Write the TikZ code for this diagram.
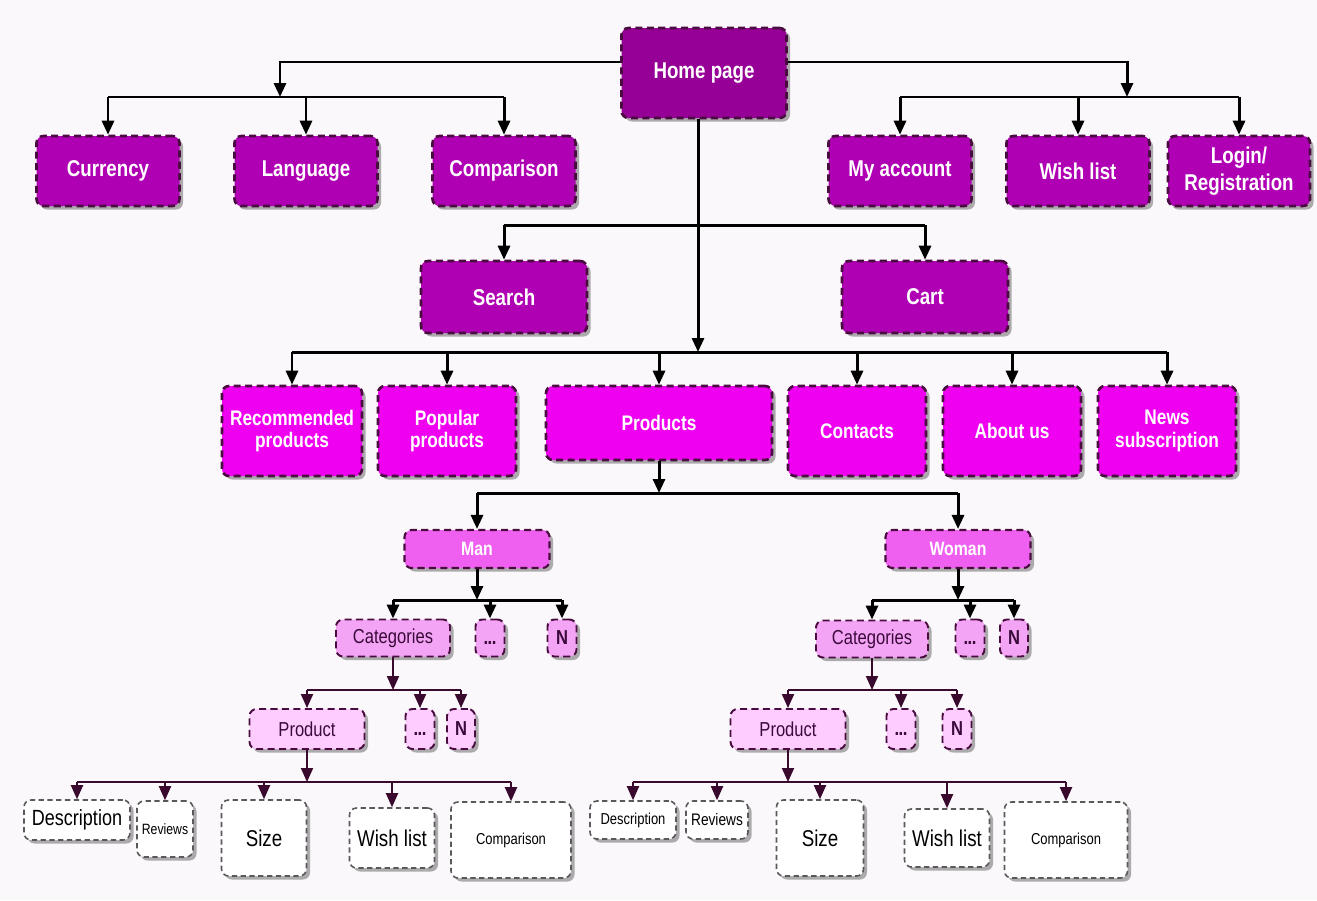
\documentclass[tikz,border=0pt]{standalone}
\usepackage{fontspec}
\setmainfont{Liberation Sans}[FakeStretch=0.82]
\usepackage{tikz}
\usetikzlibrary{arrows.meta,shadows}
\definecolor{bgc}{HTML}{FBF8FC}
\definecolor{edge}{HTML}{4A0C40}
\definecolor{lnk}{HTML}{3A0A2E}
\definecolor{lvA}{HTML}{960096}
\definecolor{lvB}{HTML}{B000B4}
\definecolor{lvC}{HTML}{F000F0}
\definecolor{lvD}{HTML}{F060F0}
\definecolor{lvE}{HTML}{F4A4F4}
\definecolor{lvF}{HTML}{FFCCFF}
\definecolor{ink}{HTML}{3A0A3A}
\newcommand{\etcdots}{\textbf{\vphantom{N}.\kern-.3pt.\kern-.3pt.}}

\begin{document}
\begin{tikzpicture}[x=0.2mm, y=-0.2mm, >={Triangle[length=2.8mm,width=2.4mm]},
	box/.style={draw=edge, rounded corners=4pt, line width=1.5pt, dash pattern=on 4pt off 2.5pt, align=center, inner sep=1pt, drop shadow={shadow xshift=2pt, shadow yshift=-2pt, opacity=0.45, fill=black!70}},
	wh/.style 2 args={minimum width=#1*0.2mm, minimum height=#2*0.2mm},
	top/.style={box, fill=#1, text=white, font=\bfseries\fontsize{13}{15}\selectfont},
	mid/.style={box, fill=lvC, text=white, font=\bfseries\fontsize{12}{13}\selectfont},
	sex/.style={box, fill=lvD, text=white, line width=1.2pt, font=\bfseries\fontsize{11}{12}\selectfont},
	cat/.style={box, fill=#1, text=ink, line width=1.1pt, font=\fontsize{11.5}{12}\selectfont},
	leaf/.style={box, fill=white, text=black, draw=black!65, line width=0.9pt, dash pattern=on 3pt off 2pt, font=\fontsize{#1}{#1}\selectfont},
	link/.style={black, line width=1.7pt},
	thin/.style={lnk, line width=1.1pt}]
	\fill[bgc] (0,0) rectangle (1317,900);
	\useasboundingbox (0,0) rectangle (1317,900);
	% top
	\node[top=lvA, wh={165}{90}] (home) at (704,73) {Home page};
	\node[top=lvB, wh={143}{70}] (cur) at (108,171) {Currency};
	\node[top=lvB, wh={143}{70}] (lang) at (306,171) {Language};
	\node[top=lvB, wh={143}{70}] (cmp) at (504,171) {Comparison};
	\node[top=lvB, wh={143}{70}] (acc) at (900,171) {My account};
	\node[top=lvB, wh={143}{70}] (wish) at (1078,171) {Wish list};
	\node[top=lvB, wh={142}{70}] (login) at (1239,171) {Login/\\Registration};
	\node[top=lvB, wh={166}{72}] (search) at (504,297) {Search};
	\node[top=lvB, wh={166}{72}] (cart) at (925,297) {Cart};
	% middle row
	\node[mid, wh={140}{90}] (rec) at (292,431) {Recommended\\products};
	\node[mid, wh={138}{90}] (pop) at (447,431) {Popular\\products};
	\node[mid, wh={226}{74}] (prod) at (659,423) {Products};
	\node[mid, wh={138}{90}] (cont) at (857,431) {Contacts};
	\node[mid, wh={138}{90}] (about) at (1012,431) {About us};
	\node[mid, wh={138}{90}] (news) at (1167,431) {News\\subscription};
	\node[sex, wh={145}{38}] (man) at (477,549) {Man};
	\node[sex, wh={145}{38}] (woman) at (958,549) {Woman};
	% categories and products
	\node[cat=lvE, wh={114}{37}] (mcat) at (393,638) {Categories};
	\node[cat=lvE, wh={29}{37}] (mdots) at (490,638) {\etcdots};
	\node[cat=lvE, wh={29}{37}] (mn) at (562,638) {\textbf{N}};
	\node[cat=lvE, wh={112}{37}] (wcat) at (872,639) {Categories};
	\node[cat=lvE, wh={29}{37}] (wdots) at (970,638) {\etcdots};
	\node[cat=lvE, wh={28}{37}] (wn) at (1014,638) {\textbf{N}};
	\node[cat=lvF, wh={115}{40}] (mprod) at (307,729) {Product};
	\node[cat=lvF, wh={29}{40}] (mpdots) at (420,729) {\etcdots};
	\node[cat=lvF, wh={28}{40}] (mpn) at (461,729) {\textbf{N}};
	\node[cat=lvF, wh={115}{40}] (wprod) at (788,729) {Product};
	\node[cat=lvF, wh={29}{40}] (wpdots) at (901,729) {\etcdots};
	\node[cat=lvF, wh={29}{40}] (wpn) at (957,729) {\textbf{N}};
	% leaves
	\node[leaf=12.5, wh={106}{40}] (mdesc) at (77,820) {Description};
	\node[leaf=8.5, wh={56}{56}] (mrev) at (165,829) {Reviews};
	\node[leaf=13, wh={85}{76}] (msize) at (264,838) {Size};
	\node[leaf=13, wh={85}{60}] (mwish) at (392,838) {Wish list};
	\node[leaf=9, wh={120}{76}] (mcmp) at (511,840) {Comparison};
	\node[leaf=9, wh={86}{38}] (wdesc) at (633,820) {Description};
	\node[leaf=9.5, wh={62}{38}] (wrev) at (717,820) {Reviews};
	\node[leaf=13, wh={87}{76}] (wsize) at (820,838) {Size};
	\node[leaf=13, wh={85}{58}] (wwish) at (947,838) {Wish list};
	\node[leaf=9, wh={123}{76}] (wcmp) at (1066,840) {Comparison};
	% buses
	\coordinate (lb) at (280,97);
	\coordinate (rb) at (1127,97);
	\coordinate (sb) at (698,225);
	\coordinate (mb) at (698,352);
	\coordinate (pb) at (659,493);
	\coordinate (manb) at (477,600);
	\coordinate (womb) at (958,600);
	\coordinate (mcb) at (393,690);
	\coordinate (wcb) at (872,690);
	\coordinate (mpb) at (307,782);
	\coordinate (wpb) at (788,782);
	\draw[link, ->] ([yshift=2.2mm]home.west) -| (lb);
	\draw[link, ->] ([yshift=2.2mm]home.east) -| (rb);
	\draw[link, ->] (home.south -| mb) -- (mb);
	\draw[link] (cur.north |- lb) -- (cmp.north |- lb);
	\draw[link] (acc.north |- rb) -- (login.north |- rb);
	\draw[link] (search.north |- sb) -- (cart.north |- sb);
	\draw[link] (rec.north |- mb) -- (news.north |- mb);
	\foreach \n in {cur,lang,cmp} {\draw[link, ->] (\n.north |- lb) -- (\n.north);}
	\foreach \n in {acc,wish,login} {\draw[link, ->] (\n.north |- rb) -- (\n.north);}
	\foreach \n in {search,cart} {\draw[link, ->] (\n.north |- sb) -- (\n.north);}
	\foreach \n in {rec,pop,prod,cont,about,news} {\draw[link, ->] (\n.north |- mb) -- (\n.north);}
	\draw[link, ->] (prod.south) -- (pb);
	\draw[link] (man.north |- pb) -- (woman.north |- pb);
	\foreach \n in {man,woman} {\draw[link, ->] (\n.north |- pb) -- (\n.north);}
	\draw[link, ->] (man.south) -- (manb);
	\draw[link, ->] (woman.south) -- (womb);
	\draw[link] (mcat.north |- manb) -- (mn.north |- manb);
	\draw[link] (wcat.north |- womb) -- (wn.north |- womb);
	\foreach \n in {mcat,mdots,mn} {\draw[link, ->] (\n.north |- manb) -- (\n.north);}
	\foreach \n in {wcat,wdots,wn} {\draw[link, ->] (\n.north |- womb) -- (\n.north);}
	\draw[thin, ->] (mcat.south) -- (mcb);
	\draw[thin, ->] (wcat.south) -- (wcb);
	\draw[thin] (mprod.north |- mcb) -- (mpn.north |- mcb);
	\draw[thin] (wprod.north |- wcb) -- (wpn.north |- wcb);
	\foreach \n in {mprod,mpdots,mpn} {\draw[thin, ->] (\n.north |- mcb) -- (\n.north);}
	\foreach \n in {wprod,wpdots,wpn} {\draw[thin, ->] (\n.north |- wcb) -- (\n.north);}
	\draw[thin, ->] (mprod.south) -- (mpb);
	\draw[thin, ->] (wprod.south) -- (wpb);
	\draw[thin] (mdesc.north |- mpb) -- (mcmp.north |- mpb);
	\draw[thin] (wdesc.north |- wpb) -- (wcmp.north |- wpb);
	\foreach \n in {mdesc,mrev,msize,mwish,mcmp} {\draw[thin, ->] (\n.north |- mpb) -- (\n.north);}
	\foreach \n in {wdesc,wrev,wsize,wwish,wcmp} {\draw[thin, ->] (\n.north |- wpb) -- (\n.north);}
\end{tikzpicture}
\end{document}
